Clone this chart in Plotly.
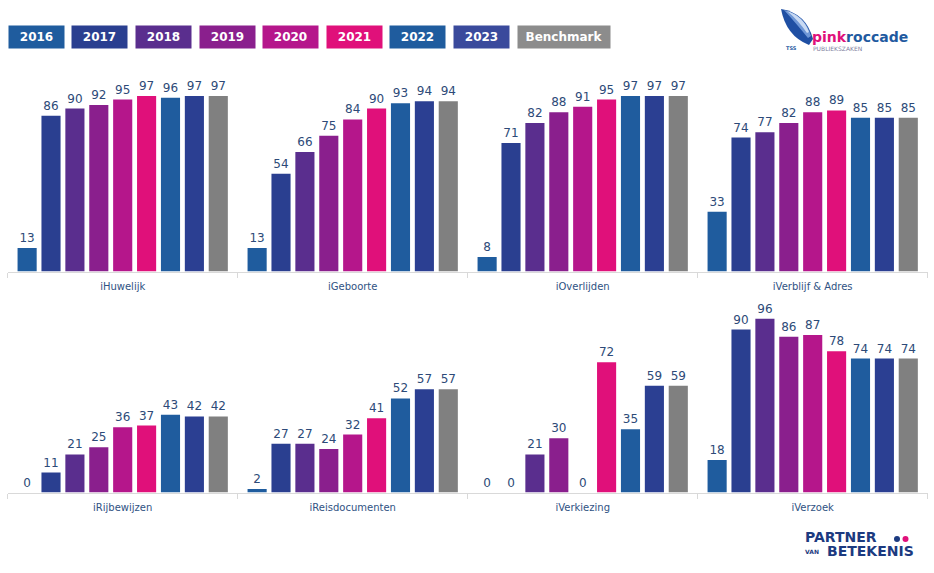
import plotly.graph_objects as go

# ---------------- data ----------------
categories_top = ["iHuwelijk", "iGeboorte", "iOverlijden", "iVerblijf & Adres"]
categories_bottom = ["iRijbewijzen", "iReisdocumenten", "iVerkiezing", "iVerzoek"]

series_names = ["2016", "2017", "2018", "2019", "2020", "2021", "2022", "2023", "Benchmark"]

v2016 = [13, 13, 8, 33, 0, 2, 0, 18]
v2017 = [86, 54, 71, 74, 11, 27, 0, 90]
v2018 = [90, 66, 82, 77, 21, 27, 21, 96]
v2019 = [92, 75, 88, 82, 25, 24, 30, 86]
v2020 = [95, 84, 91, 88, 36, 32, 0, 87]
v2021 = [97, 90, 95, 89, 37, 41, 72, 78]
v2022 = [96, 93, 97, 85, 43, 52, 35, 74]
v2023 = [97, 94, 97, 85, 42, 57, 59, 74]
vBenchmark = [97, 94, 97, 85, 42, 57, 59, 74]

series_values = [v2016, v2017, v2018, v2019, v2020, v2021, v2022, v2023, vBenchmark]

# ---------------- style ----------------
colors = ["#1f5c9e", "#2a3f90", "#5a2e8e", "#8a1f8d", "#b5168b", "#e0107a",
          "#1f5c9e", "#2b3f92", "#808080"]
legend_colors = ["#1f5c9e", "#2a3f90", "#5a2e8e", "#8a1f8d", "#b5168b", "#e0107a",
                 "#1f5c9e", "#3a4a9c", "#8c8c8c"]
W, H = 934, 573
label_color = "#2d4a78"
font_family = "DejaVu Sans"

def px_x(p):
    return p / W

def px_y(p):
    return 1 - p / H

fig = go.Figure()
n_top = len(categories_top)
for name, vals, col in zip(series_names, series_values, colors):
    for cats, vv, xa, ya in ((categories_top, vals[:n_top], "x", "y"),
                             (categories_bottom, vals[n_top:], "x2", "y2")):
        fig.add_trace(go.Bar(
            x=cats, y=vv, name=name, xaxis=xa, yaxis=ya,
            marker=dict(color=col, line=dict(width=0)),
            text=[str(v) for v in vv], textposition="outside",
            textfont=dict(family=font_family, size=12, color=label_color),
            cliponaxis=False, constraintext="none", showlegend=False,
            hoverinfo="x+y+name",
        ))

ymax = 105
px_per_unit = 1.81
base_top, base_bot = 271.5, 492.5
x_dom = [px_x(7.7), px_x(927.7)]

axis_x = dict(showline=True, linecolor="#d9d9d9", linewidth=1,
              ticks="outside", tickson="boundaries", ticklen=5, tickcolor="#d9d9d9",
              ticklabelstandoff=5,
              showgrid=False, zeroline=False, domain=x_dom,
              tickfont=dict(family=font_family, size=10, color="#2f5283"))
axis_y = dict(range=[0, ymax], visible=False, showgrid=False, zeroline=False)

fig.update_layout(
    width=W, height=H,
    margin=dict(l=0, r=0, t=0, b=0),
    paper_bgcolor="white", plot_bgcolor="white",
    barmode="group", bargap=0.065, bargroupgap=0.2,
    showlegend=False,
    xaxis=dict(axis_x, anchor="y"),
    xaxis2=dict(axis_x, anchor="y2"),
    yaxis=dict(axis_y, domain=[px_y(base_top), px_y(base_top - ymax * px_per_unit)], anchor="x"),
    yaxis2=dict(axis_y, domain=[px_y(base_bot), px_y(base_bot - ymax * px_per_unit)], anchor="x2"),
    font=dict(family=font_family),
)

# ---------------- legend as coloured boxes ----------------
annotations = []
x0, pitch, box_w, box_h, box_yc = 8.8, 63.6, 55, 22, 37
for i, (name, col) in enumerate(zip(series_names, legend_colors)):
    w = 92 if name == "Benchmark" else box_w
    left = x0 + i * pitch
    annotations.append(dict(
        xref="paper", yref="paper", x=px_x(left + w / 2), y=px_y(box_yc),
        xanchor="center", yanchor="middle", showarrow=False,
        text="<b>%s</b>" % name, width=w, height=box_h, bgcolor=col, borderpad=0,
        font=dict(family=font_family, size=12, color="white"),
    ))

# ---------------- logos ----------------
annotations.append(dict(
    xref="paper", yref="paper", x=px_x(810), y=px_y(37), xanchor="left", yanchor="middle",
    showarrow=False,
    text="<span style='color:#e0107a'><b>pink</b></span><span style='color:#1f5aa0'><b>roccade</b></span>",
    font=dict(family=font_family, size=14),
))
annotations.append(dict(
    xref="paper", yref="paper", x=px_x(811), y=px_y(49), xanchor="left", yanchor="middle",
    showarrow=False, text="PUBLIEKSZAKEN",
    font=dict(family=font_family, size=6, color="#7f7f9f"),
))
annotations.append(dict(
    xref="paper", yref="paper", x=px_x(784), y=px_y(48), xanchor="left", yanchor="middle",
    showarrow=False, text="<b>TSS</b>",
    font=dict(family=font_family, size=5, color="#1f5aa0"),
))
annotations.append(dict(
    xref="paper", yref="paper", x=px_x(803), y=px_y(537), xanchor="left", yanchor="middle",
    showarrow=False, text="<b>PARTNER</b>",
    font=dict(family=font_family, size=14, color="#1c3a80"),
))
annotations.append(dict(
    xref="paper", yref="paper", x=px_x(825), y=px_y(551), xanchor="left", yanchor="middle",
    showarrow=False, text="<b>BETEKENIS</b>",
    font=dict(family=font_family, size=14, color="#1c3a80"),
))
annotations.append(dict(
    xref="paper", yref="paper", x=px_x(803), y=px_y(551), xanchor="left", yanchor="middle",
    showarrow=False, text="<b>VAN</b>",
    font=dict(family=font_family, size=6, color="#1c3a80"),
))
fig.update_layout(annotations=annotations)

def path(points):
    s = "M %f,%f" % (px_x(points[0][0]), px_y(points[0][1]))
    for p in points[1:]:
        if len(p) == 4:
            s += " Q %f,%f %f,%f" % (px_x(p[0]), px_y(p[1]), px_x(p[2]), px_y(p[3]))
        else:
            s += " L %f,%f" % (px_x(p[0]), px_y(p[1]))
    return s + " Z"

shapes = []
swoosh = [
    ([(781, 9), (806, 13, 813, 39), (809, 45), (786, 36, 781, 9)], "#1f4fa3"),
    ([(784, 10), (805, 15, 811, 36), (808, 38), (795, 22, 784, 10)], "#6f97d6"),
    ([(787, 11), (803, 16, 809, 32), (807, 33), (798, 20, 787, 11)], "#c9daf3"),
]
for pts, col in swoosh:
    shapes.append(dict(type="path", xref="paper", yref="paper", path=path(pts),
                       fillcolor=col, line=dict(width=0), layer="above"))
for cx, col in ((897, "#1c3a80"), (905.5, "#e0107a")):
    r = 3
    shapes.append(dict(type="circle", xref="paper", yref="paper",
                       x0=px_x(cx - r), x1=px_x(cx + r), y0=px_y(539 + r), y1=px_y(539 - r),
                       fillcolor=col, line=dict(width=0)))
fig.update_layout(shapes=shapes)

fig.write_html("out.html", config={"displayModeBar": False},
               post_script="document.body.style.margin='0px';")
